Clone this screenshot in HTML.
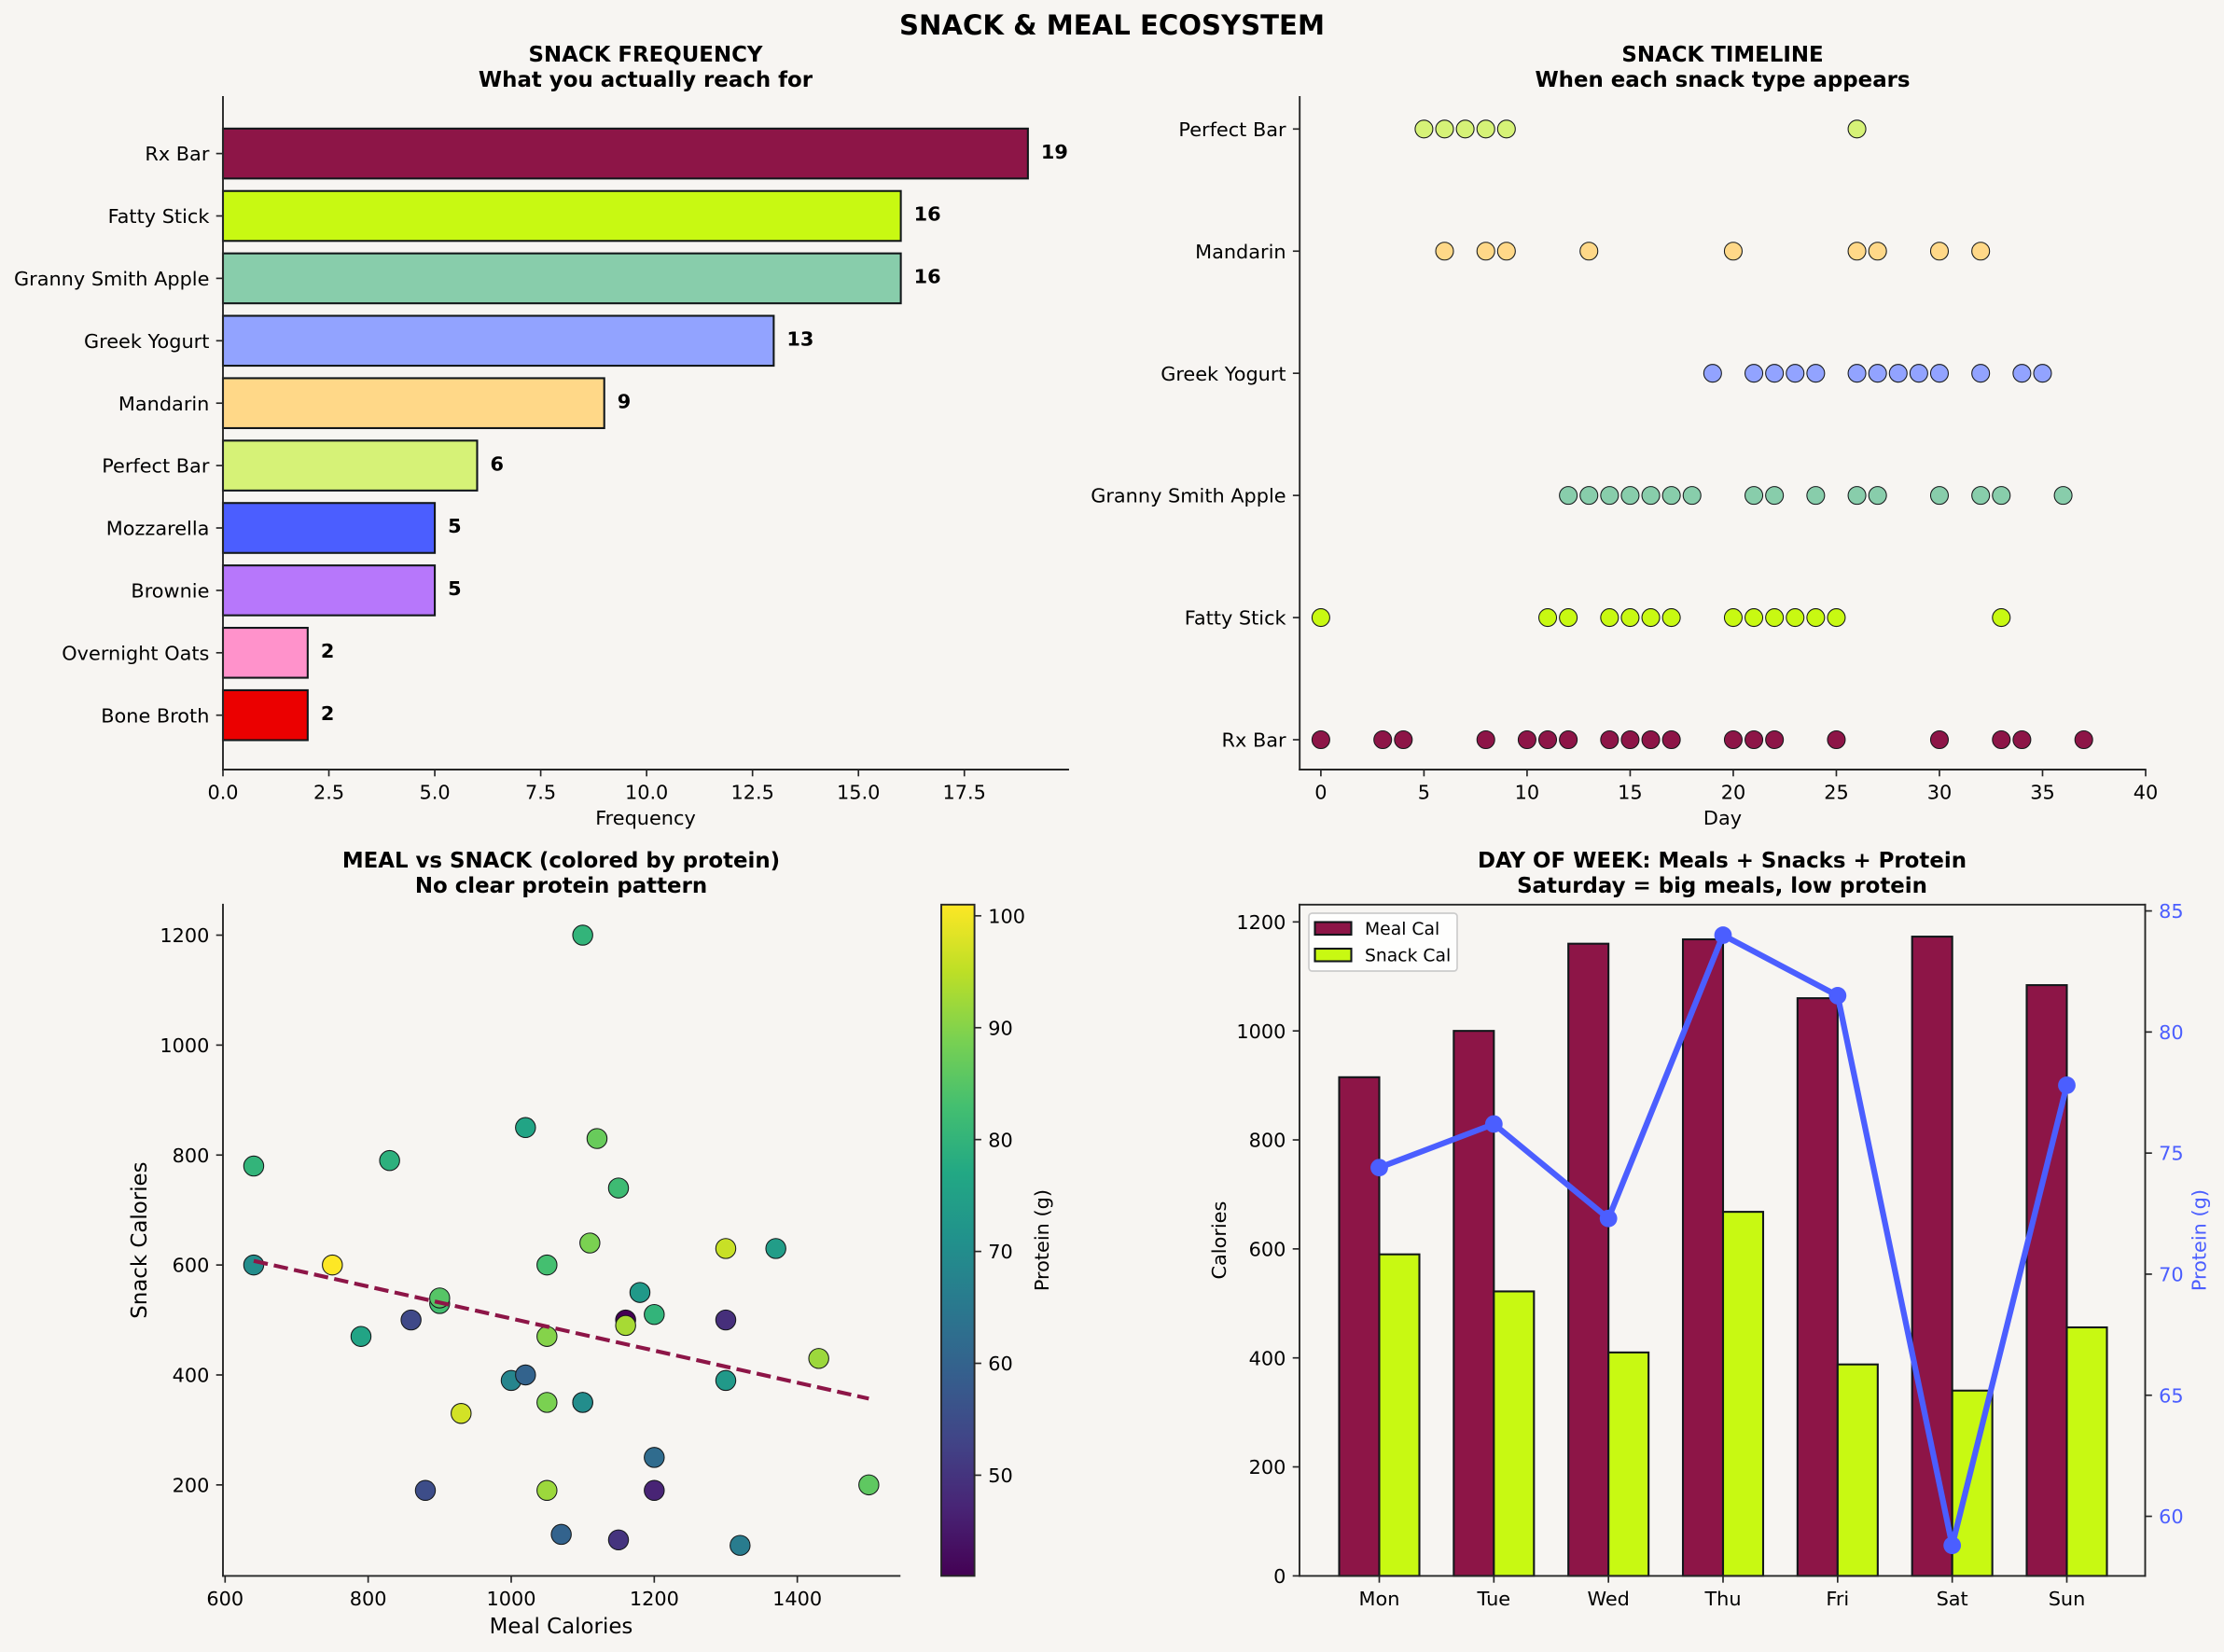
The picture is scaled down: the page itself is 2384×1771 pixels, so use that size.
<!DOCTYPE html>
<html lang="en">
<head>
<meta charset="utf-8">
<title>Snack &amp; Meal Ecosystem</title>
<style>
html,body{margin:0;padding:0;background:#F7F5F2;}
svg{display:block;}
text{font-family:"DejaVu Sans","Liberation Sans",sans-serif;fill:#000;}
.tick{font-size:20.83px;}
.axl{font-size:20.83px;}
.axl2{font-size:22.9px;}
.ttl{font-size:22.9px;font-weight:bold;text-anchor:middle;}
</style>
</head>
<body>
<svg id="fig" xmlns="http://www.w3.org/2000/svg" width="2384" height="1771" viewBox="0 0 2384 1771">
  <rect x="0" y="0" width="2384" height="1771" fill="#F7F5F2"/>
  <text x="1192" y="37" text-anchor="middle" font-size="29.17" font-weight="bold">SNACK &amp; MEAL ECOSYSTEM</text>

  <g id="p1">
    <text class="ttl" x="692" y="66">SNACK FREQUENCY</text>
    <text class="ttl" x="692" y="93">What you actually reach for</text>
    <text class="axl" x="692" y="884" text-anchor="middle">Frequency</text>
  </g>
  <g id="p2">
    <text class="ttl" x="1846.5" y="66">SNACK TIMELINE</text>
    <text class="ttl" x="1846.5" y="93">When each snack type appears</text>
    <text class="axl" x="1846.5" y="884" text-anchor="middle">Day</text>
  </g>
  <g id="p3">
    <text class="ttl" x="601.5" y="930">MEAL vs SNACK (colored by protein)</text>
    <text class="ttl" x="601.5" y="957">No clear protein pattern</text>
    <text class="axl2" x="601.5" y="1751" text-anchor="middle">Meal Calories</text>
    <text class="axl2" transform="translate(157,1329.6) rotate(-90)" text-anchor="middle">Snack Calories</text>
    <text class="axl" transform="translate(1124,1329.6) rotate(-90)" text-anchor="middle">Protein (g)</text>
  </g>
  <g id="p4">
    <text class="ttl" x="1846" y="930">DAY OF WEEK: Meals + Snacks + Protein</text>
    <text class="ttl" x="1846" y="957">Saturday = big meals, low protein</text>
    <text class="axl" transform="translate(1314,1329.6) rotate(-90)" text-anchor="middle">Calories</text>
    <text class="axl" transform="translate(2364.5,1329.6) rotate(-90)" text-anchor="middle" style="fill:#4B5EFF">Protein (g)</text>
  </g>
</svg>
<script>
// ---- Snack frequency data ----
var freqCategories = ['Rx Bar','Fatty Stick','Granny Smith Apple','Greek Yogurt','Mandarin','Perfect Bar','Mozzarella','Brownie','Overnight Oats','Bone Broth'];
var freqValues = [19,16,16,13,9,6,5,5,2,2];
var freqColors = ['#8D1547','#C8F912','#88CDAB','#92A3FF','#FFD888','#D6F277','#4B5EFF','#B777FB','#FF92CB','#EB0000'];
var freqTicks = [0,2.5,5,7.5,10,12.5,15,17.5];
var freqTickLabels = ['0.0','2.5','5.0','7.5','10.0','12.5','15.0','17.5'];

// ---- Snack timeline data ----
var timelineSnacks = ['Rx Bar','Fatty Stick','Granny Smith Apple','Greek Yogurt','Mandarin','Perfect Bar'];
var timelineColors = ['#8D1547','#C8F912','#88CDAB','#92A3FF','#FFD888','#D6F277'];
var daysRxBar = [0,3,4,8,10,11,12,14,15,16,17,20,21,22,25,30,33,34,37];
var daysFattyStick = [0,11,12,14,15,16,17,20,21,22,23,24,25,33];
var daysGrannySmith = [12,13,14,15,16,17,18,21,22,24,26,27,30,32,33,36];
var daysGreekYogurt = [19,21,22,23,24,26,27,28,29,30,32,34,35];
var daysMandarin = [6,8,9,13,20,26,27,30,32];
var daysPerfectBar = [5,6,7,8,9,26];
var timelineTicks = [0,5,10,15,20,25,30,35,40];

// ---- Meal vs snack scatter data ----
var mealCalories  = [640,640,750,790,830,860,880,900,900,930,1000,1020,1020,1050,1050,1050,1050,1070,1100,1100,1100,1110,1120,1150,1150,1160,1160,1180,1200,1200,1200,1300,1300,1300,1320,1370,1430,1500];
var snackCalories = [780,600,600,470,790,500,190,530,540,330,390,400,850,600,470,350,190,110,1200,350,350,640,830,740,100,500,490,550,510,250,190,630,500,390,90,630,430,200];
var proteinGrams  = [80,70,101,76,79,54,55,83,85,97,68,60,76,83,90,89,92,60,80,70,70,89,87,82,50,41,93,73,80,62,47,96,49,73,66,74,92,86];
var scatterXTicks = [600,800,1000,1200,1400];
var scatterYTicks = [200,400,600,800,1000,1200];
var colorbarTicks = [50,60,70,80,90,100];
var viridisStops = ['#440154','#482475','#414487','#355f8d','#2a788e','#21918c','#22a884','#44bf70','#7ad151','#bddf26','#fde725'];

// ---- Day of week data ----
var weekDays = ['Mon','Tue','Wed','Thu','Fri','Sat','Sun'];
var weekMealCal = [915,1000,1160,1168,1060,1173,1084];
var weekSnackCal = [590,522,410,668,388,340,456];
var weekProtein = [74.4,76.2,72.3,84.0,81.5,58.8,77.8];
var weekLeftTicks = [0,200,400,600,800,1000,1200];
var weekRightTicks = [60,65,70,75,80,85];

var NS = 'http://www.w3.org/2000/svg';
var SPINE = '#262626';
var EDGE = '#12171A';
var BLUE = '#4B5EFF';
var WINE = '#8D1547';

function node(tag, attrs, parent) {
  var el = document.createElementNS(NS, tag);
  for (var k in attrs) { el.setAttribute(k, attrs[k]); }
  parent.appendChild(el);
  return el;
}
function linear(d0, d1, r0, r1) {
  return function (v) { return r0 + (v - d0) * (r1 - r0) / (d1 - d0); };
}
function spine(parent, x1, y1, x2, y2, name) {
  var el = node('line', {x1:x1, y1:y1, x2:x2, y2:y2, stroke:SPINE, 'stroke-width':1.9, 'stroke-linecap':'square'}, parent);
  
  
  return el;
}
function xTick(parent, x, axisY, label, name) {
  var t = node('line', {x1:x, y1:axisY, x2:x, y2:axisY + 7.3, stroke:SPINE, 'stroke-width':1.67}, parent);
  
  
  var s = node('text', {x:x, y:axisY + 31.5, 'text-anchor':'middle', 'class':'tick'}, parent);
  
  
  s.textContent = label;
}
function yTick(parent, y, axisX, label, name) {
  var t = node('line', {x1:axisX - 7.3, y1:y, x2:axisX, y2:y, stroke:SPINE, 'stroke-width':1.67}, parent);
  
  
  var s = node('text', {x:axisX - 14.6, y:y + 7.6, 'text-anchor':'end', 'class':'tick'}, parent);
  
  
  s.textContent = label;
}
function rightTick(parent, y, axisX, label, color, name) {
  var t = node('line', {x1:axisX, y1:y, x2:axisX + 7.3, y2:y, stroke:SPINE, 'stroke-width':1.67}, parent);
  
  
  var s = node('text', {x:axisX + 14.6, y:y + 7.6, 'class':'tick'}, parent);
  
  
  s.style.fill = color;
  s.textContent = label;
}
function viridis(t) {
  t = Math.max(0, Math.min(1, t));
  var n = viridisStops.length - 1;
  var i = Math.min(Math.floor(t * n), n - 1);
  var f = t * n - i;
  var a = viridisStops[i], b = viridisStops[i + 1];
  var out = '#';
  for (var c = 1; c < 7; c += 2) {
    var p = parseInt(a.substr(c, 2), 16), q = parseInt(b.substr(c, 2), 16);
    var v = Math.round(p + (q - p) * f).toString(16);
    out += v.length < 2 ? '0' + v : v;
  }
  return out;
}

// ==== Panel 1: horizontal bars ====
(function () {
  var g = document.getElementById('p1');
  var L = 239, R = 1145, T = 104, B = 825;
  var x = linear(0, 19.95, L, R);
  var y = linear(0, 9, 164.6, 766.7);
  var band = 0.8 * (y(1) - y(0));
  freqCategories.forEach(function (name, i) {
    var v = freqValues[i];
    var bar = node('rect', {x:x(0), y:y(i) - band / 2, width:x(v) - x(0), height:band, fill:freqColors[i], stroke:EDGE, 'stroke-width':2.08}, g);
    
    
    var lbl = node('text', {x:x(v) + 14, y:y(i) + 5.2, 'font-size':'20.83', 'font-weight':'bold'}, g);
    
    
    lbl.textContent = String(v);
    yTick(g, y(i), L, name, 'frequency-y');
  });
  freqTicks.forEach(function (v, i) { xTick(g, x(v), B, freqTickLabels[i], 'frequency-x'); });
  spine(g, L, T, L, B, 'frequency-left-spine');
  spine(g, L, B, R, B, 'frequency-bottom-spine');
})();

// ==== Panel 2: timeline dots ====
(function () {
  var g = document.getElementById('p2');
  var L = 1393.2, R = 2299.8, T = 104, B = 825;
  var x = linear(-1, 40, L + 0.6, R + 0.2);
  var y = linear(0, 5, 793, 138.3);
  var series = [daysRxBar, daysFattyStick, daysGrannySmith, daysGreekYogurt, daysMandarin, daysPerfectBar];
  series.forEach(function (days, i) {
    days.forEach(function (d) {
      var dot = node('circle', {cx:x(d), cy:y(i), r:9.5, fill:timelineColors[i], stroke:'#15181A', 'stroke-width':1.05}, g);
      
      
    });
    yTick(g, y(i), L, timelineSnacks[i], 'timeline-y');
  });
  timelineTicks.forEach(function (v) { xTick(g, x(v), B, String(v), 'timeline-x'); });
  spine(g, L, T, L, B, 'timeline-left-spine');
  spine(g, L, B, R, B, 'timeline-bottom-spine');
})();

// ==== Panel 3: scatter, trend, colorbar ====
(function () {
  var g = document.getElementById('p3');
  var L = 239, R = 964.3, T = 969.8, B = 1689.4;
  var x = linear(597, 1543, L, R);
  var y = linear(34.5, 1255.5, B, T);
  var pMin = 41, pMax = 101;
  mealCalories.forEach(function (m, i) {
    var dot = node('circle', {cx:x(m), cy:y(snackCalories[i]), r:10.7, fill:viridis((proteinGrams[i] - pMin) / (pMax - pMin)), stroke:'#15181A', 'stroke-width':1.05}, g);
    
    
  });
  // least-squares trend line through the points
  var n = mealCalories.length, sx = 0, sy = 0, sxx = 0, sxy = 0, xMin = Infinity, xMax = -Infinity;
  mealCalories.forEach(function (m, i) {
    sx += m; sy += snackCalories[i]; sxx += m * m; sxy += m * snackCalories[i];
    xMin = Math.min(xMin, m); xMax = Math.max(xMax, m);
  });
  var slope = (n * sxy - sx * sy) / (n * sxx - sx * sx);
  var icpt = (sy - slope * sx) / n;
  var trend = node('line', {x1:x(xMin), y1:y(slope * xMin + icpt), x2:x(xMax), y2:y(slope * xMax + icpt), stroke:WINE, 'stroke-width':4.17, 'stroke-dasharray':'15.4 6.7'}, g);
  
  

  scatterXTicks.forEach(function (v) { xTick(g, x(v), B, String(v), 'scatter-x'); });
  scatterYTicks.forEach(function (v) { yTick(g, y(v), L, String(v), 'scatter-y'); });
  spine(g, L, T, L, B, 'scatter-left-spine');
  spine(g, L, B, R, B, 'scatter-bottom-spine');

  // colorbar
  var defs = node('defs', {}, g);
  var grad = node('linearGradient', {id:'viridisGrad', x1:'0', y1:'1', x2:'0', y2:'0'}, defs);
  viridisStops.forEach(function (c, i) {
    node('stop', {offset:i / (viridisStops.length - 1), 'stop-color':c}, grad);
  });
  var cx0 = 1009, cx1 = 1044.6;
  var cy = linear(pMin, pMax, B, T);
  var bar = node('rect', {x:cx0, y:T, width:cx1 - cx0, height:B - T, fill:'url(#viridisGrad)', stroke:SPINE, 'stroke-width':1.9}, g);
  
  
  colorbarTicks.forEach(function (v) { rightTick(g, cy(v), cx1, String(v), '#000', 'colorbar'); });
})();

// ==== Panel 4: grouped bars + protein line ====
(function () {
  var g = document.getElementById('p4');
  var L = 1393, R = 2299.5, T = 969.8, B = 1689.4;
  var x = linear(0, 6, 1478.5, 2215.5);
  var y = linear(0, 1231.7, B, T);
  var yR = linear(57.54, 85.26, B, T);
  var w = 0.35 * (x(1) - x(0));
  weekDays.forEach(function (d, i) {
    var a = node('rect', {x:x(i) - w, y:y(weekMealCal[i]), width:w, height:B - y(weekMealCal[i]), fill:WINE, stroke:EDGE, 'stroke-width':2.08}, g);
    
    
    var b = node('rect', {x:x(i), y:y(weekSnackCal[i]), width:w, height:B - y(weekSnackCal[i]), fill:'#C8F912', stroke:EDGE, 'stroke-width':2.08}, g);
    
    
    xTick(g, x(i), B, d, 'weekday-x');
  });
  weekLeftTicks.forEach(function (v) { yTick(g, y(v), L, String(v), 'weekday-left'); });
  weekRightTicks.forEach(function (v) { rightTick(g, yR(v), R, String(v), BLUE, 'weekday-right'); });

  // legend
  var leg = node('rect', {x:1403, y:979, width:159, height:62, rx:3.5, ry:3.5, fill:'#FFFFFF', 'fill-opacity':'0.85', stroke:'#CCCCCC', 'stroke-width':1.67}, g);
  
  
  var p1 = node('rect', {x:1409.5, y:988.5, width:39, height:13.5, fill:WINE, stroke:EDGE, 'stroke-width':2.08}, g);
  
  
  var p2 = node('rect', {x:1409.5, y:1017, width:39, height:13.5, fill:'#C8F912', stroke:EDGE, 'stroke-width':2.08}, g);
  
  
  var t1 = node('text', {x:1463, y:1002, 'font-size':'18.75'}, g);
  
  
  t1.textContent = 'Meal Cal';
  var t2 = node('text', {x:1463, y:1030.5, 'font-size':'18.75'}, g);
  
  
  t2.textContent = 'Snack Cal';

  // frame
  spine(g, L, T, R, T, 'weekday-top-spine');
  spine(g, L, T, L, B, 'weekday-left-spine');
  spine(g, R, T, R, B, 'weekday-right-spine');
  spine(g, L, B, R, B, 'weekday-bottom-spine');

  // protein line
  var pts = weekProtein.map(function (v, i) { return x(i) + ',' + yR(v); }).join(' ');
  var line = node('polyline', {points:pts, fill:'none', stroke:BLUE, 'stroke-width':6.25, 'stroke-linejoin':'round'}, g);
  
  
  weekProtein.forEach(function (v, i) {
    var m = node('circle', {cx:x(i), cy:yR(v), r:9.4, fill:BLUE}, g);
    
    
  });
})();
</script>
</body>
</html>
